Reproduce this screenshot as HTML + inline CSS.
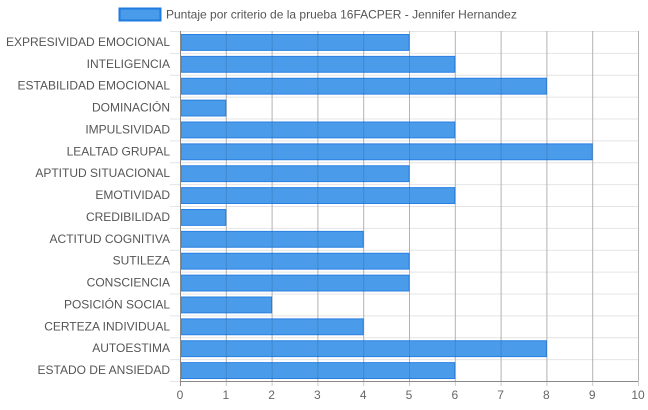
<!DOCTYPE html>
<html><head><meta charset="utf-8"><style>
body{margin:0;background:#fff;}
svg{display:block;font-family:"Liberation Sans",sans-serif;}
</style></head><body>
<svg id="c" width="648" height="410">
<g>
<rect x="119.5" y="8.5" width="41" height="12" fill="#4a9be9" stroke="#1f7be0" stroke-width="2"/>
<text x="166" y="18.5" font-size="12" fill="#555">Puntaje por criterio de la prueba 16FACPER - Jennifer Hernandez</text>
</g>
<g id="grid"></g><g id="bars"></g><g id="top"></g>
</svg>
<script>
const categories=["EXPRESIVIDAD EMOCIONAL","INTELIGENCIA","ESTABILIDAD EMOCIONAL","DOMINACIÓN","IMPULSIVIDAD","LEALTAD GRUPAL","APTITUD SITUACIONAL","EMOTIVIDAD","CREDIBILIDAD","ACTITUD COGNITIVA","SUTILEZA","CONSCIENCIA","POSICIÓN SOCIAL","CERTEZA INDIVIDUAL","AUTOESTIMA","ESTADO DE ANSIEDAD"];
const values=[5,6,8,1,6,9,5,6,1,4,5,5,2,4,8,6];
const ticks=[0,1,2,3,4,5,6,7,8,9,10];
const NS="http://www.w3.org/2000/svg";
const L=180,R=638,T=31,B=381;
const x=v=>L+(v-ticks[0])/(ticks[ticks.length-1]-ticks[0])*(R-L);
const rh=(B-T)/categories.length;
const y=i=>T+i*rh;
function mk(p,tag,a){const e=document.createElementNS(NS,tag);for(const k in a)e.setAttribute(k,a[k]);document.getElementById(p).appendChild(e);return e;}
for(let i=0;i<=categories.length;i++){
 const l=mk("grid","line",{x1:170,x2:R,y1:y(i)+.5,y2:y(i)+.5,stroke:"#e4e4e4"});
 
 
}
ticks.forEach(t=>{
 const l=mk("grid","line",{x1:x(t)+.5,x2:x(t)+.5,y1:T,y2:B+5,stroke:t==0?"#888":"#ccc"});
 
 
 const tx=mk("grid","text",{x:x(t),y:399,"font-size":12,fill:"#666","text-anchor":"middle"});
 tx.textContent=t;
 
 
});
categories.forEach((c,i)=>{
 const tx=mk("grid","text",{x:170,y:y(i)+rh/2+4,"font-size":12,fill:"#555","text-anchor":"end"});
 tx.textContent=c;
 
 
 const b=mk("bars","rect",{x:x(0)+1,y:y(i)+3.5,width:x(values[i])-x(0)-1,height:rh-6,fill:"#4a9be9",stroke:"#2a80e2","stroke-width":1});
 
 
});
ticks.slice(1).forEach(t=>{
 const l=mk("top","line",{x1:x(t)+.5,x2:x(t)+.5,y1:T,y2:B,stroke:"rgba(0,0,0,0.12)"});
 
 
});
const ax=mk("top","line",{x1:L+.5,x2:L+.5,y1:T,y2:B,stroke:"#888"});


const bx=mk("top","line",{x1:L,x2:R,y1:B+.5,y2:B+.5,stroke:"#888"});


</script>
</body></html>
